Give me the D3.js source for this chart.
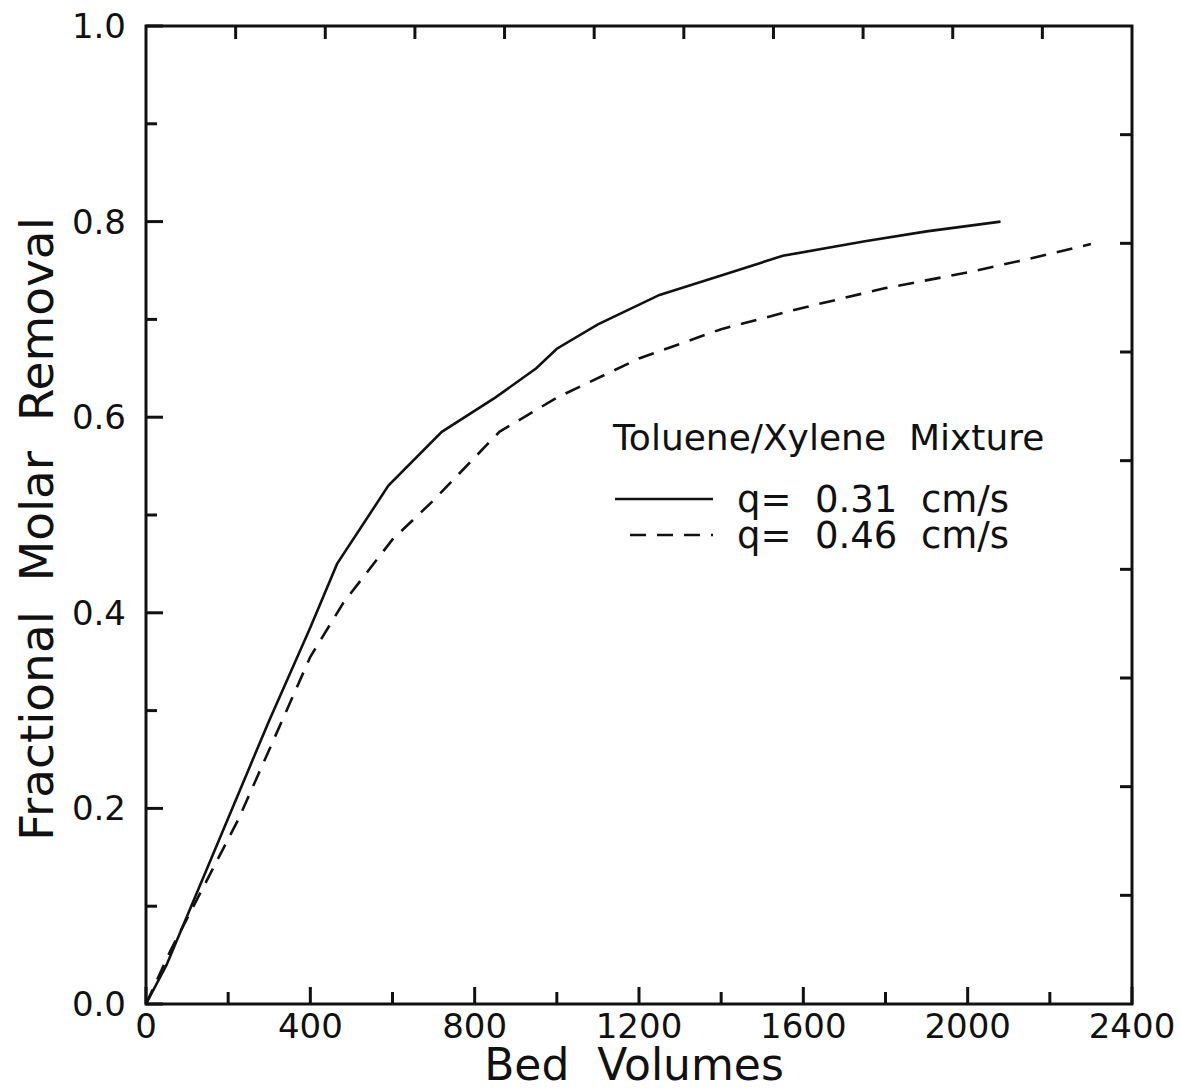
<!DOCTYPE html>
<html>
<head>
<meta charset="utf-8">
<script src="https://cdn.jsdelivr.net/npm/d3@7"></script>
<style>
    body { margin: 0; background: #fff; }
    text { font-family: "DejaVu Sans", sans-serif; fill: #111; white-space: pre; }
</style>
</head>
<body>
<div id="chart"></div>
<script>
// breakthrough curves (bed volumes, fractional removal)
const slowBV  = [0, 50, 200, 300, 400, 465, 590, 720, 850, 950, 1000, 1100, 1250, 1400, 1550, 1750, 1900, 2080];
const slowFMR = [0, 0.04, 0.19, 0.29, 0.385, 0.45, 0.53, 0.585, 0.62, 0.65, 0.67, 0.695, 0.725, 0.745, 0.765, 0.78, 0.79, 0.80];
const fastBV  = [0, 60, 224, 300, 400, 480, 600, 700, 860, 1000, 1200, 1400, 1600, 1800, 2000, 2150, 2300];
const fastFMR = [0, 0.055, 0.188, 0.26, 0.355, 0.41, 0.475, 0.515, 0.585, 0.62, 0.66, 0.69, 0.712, 0.732, 0.748, 0.762, 0.777];

const xTicks = d3.range(0, 2401, 200);
const xLabels = [0, 400, 800, 1200, 1600, 2000, 2400];
const yTicks = d3.range(0, 1.01, 0.1);
const yLabels = [0, 0.2, 0.4, 0.6, 0.8, 1.0];
const topDivisions = 11;   // the top and right frames carry their own spacing
const rightDivisions = 9;

const legendTitle = "Toluene/Xylene  Mixture";
const seriesNames = ["q=  0.31  cm/s", "q=  0.46  cm/s"];

let margin = {top: 26, right: 48, bottom: 86, left: 146};
let width = 1180 - margin.left - margin.right;
let height = 1090 - margin.top - margin.bottom;

let svg = d3.select("#chart").append("svg")
    .attr("width", 1180)
    .attr("height", 1090)
    .append("g")
    .attr("transform", "translate(" + margin.left + "," + margin.top + ")");

let x = d3.scaleLinear().domain([0, 2400]).range([0, width]);
let y = d3.scaleLinear().domain([0, 1]).range([height, 0]);
let xTop = d3.scaleLinear().domain([0, topDivisions]).range([0, width]);
let yRight = d3.scaleLinear().domain([0, rightDivisions]).range([height, 0]);

const isMajorX = v => v % 400 === 0;
const isMajorY = v => Math.round(v * 10) % 2 === 0;

// bottom axis, ticks pointing in
let bottom = svg.append("g").attr("transform", "translate(0," + height + ")");
bottom.selectAll("line.tick").data(xTicks).enter().append("line")
    .attr("x1", d => x(d)).attr("x2", d => x(d))
    .attr("y1", 0).attr("y2", d => isMajorX(d) ? -17 : -12)
    .style("stroke", "#111").style("stroke-width", 3);
bottom.selectAll("text").data(xLabels).enter().append("text")
    .attr("x", d => x(d)).attr("y", 34)
    .attr("text-anchor", "middle")
    .style("font-size", "34px")
    .text(d => d);

// left axis
let left = svg.append("g");
left.selectAll("line.tick").data(yTicks).enter().append("line")
    .attr("y1", d => y(d)).attr("y2", d => y(d))
    .attr("x1", 0).attr("x2", d => isMajorY(d) ? 17 : 11)
    .style("stroke", "#111").style("stroke-width", 3);
left.selectAll("text").data(yLabels).enter().append("text")
    .attr("x", -20).attr("y", d => y(d) + 12)
    .attr("text-anchor", "end")
    .style("font-size", "34px")
    .text(d => d.toFixed(1));

// top and right frame ticks
svg.append("g").selectAll("line").data(d3.range(1, topDivisions)).enter().append("line")
    .attr("x1", d => xTop(d)).attr("x2", d => xTop(d))
    .attr("y1", 0).attr("y2", 13)
    .style("stroke", "#111").style("stroke-width", 3);
svg.append("g").selectAll("line").data(d3.range(1, rightDivisions)).enter().append("line")
    .attr("y1", d => yRight(d)).attr("y2", d => yRight(d))
    .attr("x1", width).attr("x2", width - 12)
    .style("stroke", "#111").style("stroke-width", 3);

// frame
svg.append("rect")
    .attr("width", width).attr("height", height)
    .style("fill", "none").style("stroke", "#111").style("stroke-width", 3);

// axis titles
svg.append("text")
    .attr("x", width / 2 - 5).attr("y", height + 76)
    .attr("text-anchor", "middle")
    .style("font-size", "44px")
    .text("Bed  Volumes");
svg.append("text")
    .attr("transform", "translate(" + (53 - margin.left) + "," + (529 - margin.top) + ") rotate(-90)")
    .attr("text-anchor", "middle")
    .style("font-size", "47px")
    .text("Fractional  Molar  Removal");

// curves
let line = d3.line().x(d => x(d[0])).y(d => y(d[1]));
let slow = slowBV.map((v, i) => [v, slowFMR[i]]);
let fast = fastBV.map((v, i) => [v, fastFMR[i]]);

svg.append("path").datum(slow)
    .attr("d", line)
    .style("fill", "none").style("stroke", "#111").style("stroke-width", 2.6);
svg.append("path").datum(fast)
    .attr("d", line)
    .style("fill", "none").style("stroke", "#111").style("stroke-width", 2.6)
    .style("stroke-dasharray", "16,11");

// legend
let legend = svg.append("g").attr("transform", "translate(" + (613 - margin.left) + "," + (450 - margin.top) + ")");
legend.append("text").attr("x", 0).attr("y", 0)
    .style("font-size", "36px")
    .text(legendTitle);
legend.append("line")
    .attr("x1", 2).attr("x2", 100).attr("y1", 49).attr("y2", 49)
    .style("stroke", "#111").style("stroke-width", 2.6);
legend.append("line")
    .attr("x1", 17).attr("x2", 100).attr("y1", 85).attr("y2", 85)
    .style("stroke", "#111").style("stroke-width", 2.6)
    .style("stroke-dasharray", "16,11");
legend.selectAll("text.series").data(seriesNames).enter().append("text")
    .attr("class", "series")
    .attr("x", 124).attr("y", (d, i) => 62 + i * 36)
    .style("font-size", "37px")
    .text(d => d);
</script>
</body>
</html>
